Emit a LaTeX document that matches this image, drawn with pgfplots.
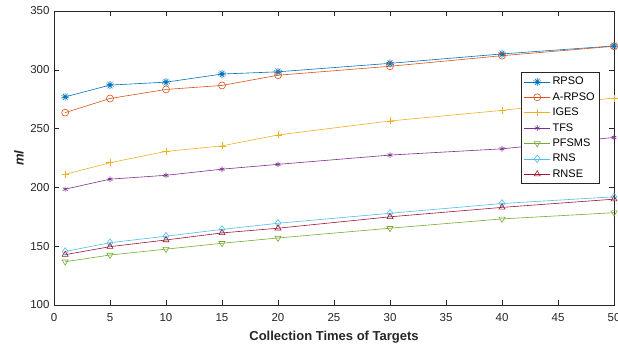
\documentclass[border=0pt]{standalone}
\usepackage{pgfplots}
\pgfplotsset{compat=1.18}
\usetikzlibrary{plotmarks}
\usepackage{fontspec}
\setmainfont{Liberation Sans}
\definecolor{c1}{rgb}{0,0.447,0.741}
\definecolor{c2}{rgb}{0.85,0.325,0.098}
\definecolor{c3}{rgb}{0.929,0.694,0.125}
\definecolor{c4}{rgb}{0.494,0.184,0.556}
\definecolor{c5}{rgb}{0.466,0.674,0.188}
\definecolor{c6}{rgb}{0.301,0.745,0.933}
\definecolor{c7}{rgb}{0.635,0.078,0.184}
\definecolor{axc}{rgb}{0.15,0.15,0.15}
\begin{document}
\begin{tikzpicture}
\path[use as bounding box] (-54pt,-44pt) rectangle (564pt,305pt);
\begin{axis}[
  scale only axis, width=560pt, height=294pt,
  xmin=0, xmax=50, ymin=100, ymax=350,
  xtick={0,5,...,50},
  ytick={100,150,...,350},
  tick align=inside, tick pos=both,
  major tick length=5pt,
  axis line style={axc, line width=0.6pt},
  tick style={axc, line width=0.6pt},
  tick label style={font=\fontsize{11.5}{13}\selectfont, text=axc},
  xticklabel style={yshift=-5pt},
  yticklabel style={xshift=-1pt},
  /pgf/number format/assume math mode=true,
  xlabel={\textbf{Collection Times of Targets}},
  ylabel={\textbf{\textit{ml}}},
  label style={font=\fontsize{13}{15}\selectfont, text=axc},
  xlabel style={at={(rel axis cs:0.5,0)}, anchor=center, yshift=-32pt},
  ylabel style={at={(rel axis cs:0,0.5)}, anchor=center, yshift=35pt},
  legend style={at={(rel axis cs:0.975,0.7925)}, anchor=north east,
    font=\fontsize{11}{13}\selectfont, draw=axc, line width=0.6pt,
    row sep=2.2pt, inner sep=3pt},
  legend image code/.code={\draw[mark repeat=2,mark phase=2] plot coordinates {(0pt,0pt) (13pt,0pt) (26pt,0pt)};},
  legend cell align=left,
  every axis plot/.append style={line width=0.6pt, mark size=3.5pt, mark options={solid, line width=0.6pt}},
]
\addplot[c1, mark=10-pointed star, mark size=4pt, mark options={fill opacity=0}] coordinates {(1,277) (5,287) (10,289.5) (15,296.4) (20,298.3) (30,305.5) (40,313.5) (50,320.3)};
\addlegendentry{RPSO}
\addplot[c2, mark=o] coordinates {(1,263.6) (5,275.6) (10,283.3) (15,286.7) (20,295.4) (30,303) (40,312) (50,320)};
\addlegendentry{A-RPSO}
\addplot[c3, mark=+] coordinates {(1,211.1) (5,221) (10,230.6) (15,235.3) (20,244.6) (30,256.5) (40,265.5) (50,276)};
\addlegendentry{IGES}
\addplot[c4, mark=asterisk, mark size=2.8pt] coordinates {(1,198.5) (5,207) (10,210.3) (15,215.5) (20,219.6) (30,227.5) (40,232.8) (50,242.5)};
\addlegendentry{TFS}
\addplot[c5, mark=triangle, mark options={rotate=180}] coordinates {(1,136.8) (5,142.5) (10,147.5) (15,152.5) (20,157) (30,165.3) (40,173.2) (50,178.5)};
\addlegendentry{PFSMS}
\addplot[c6, mark=diamond, mark size=3.8pt] coordinates {(1,145.5) (5,153) (10,158.5) (15,164.3) (20,169.5) (30,178) (40,186.3) (50,192)};
\addlegendentry{RNS}
\addplot[c7, mark=triangle] coordinates {(1,142.8) (5,149.6) (10,155.3) (15,161.3) (20,165.3) (30,175) (40,183) (50,190)};
\addlegendentry{RNSE}
\end{axis}
\end{tikzpicture}
\end{document}
